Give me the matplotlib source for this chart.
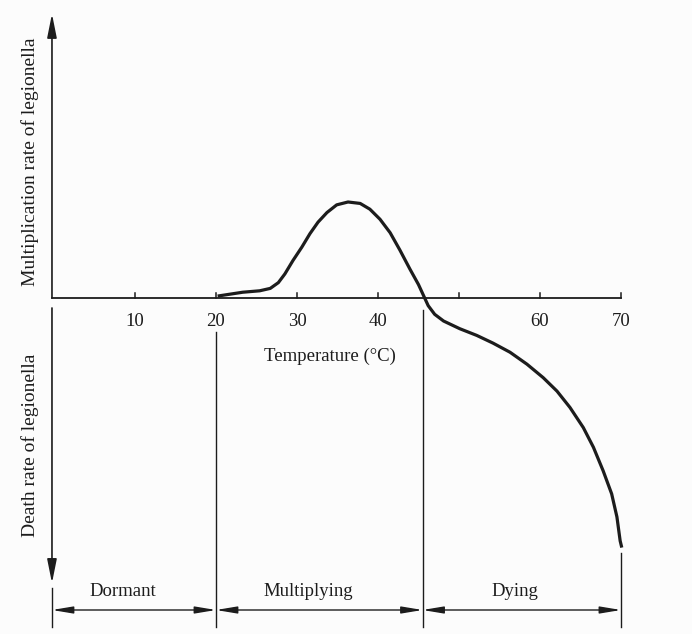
import matplotlib
matplotlib.use("Agg")
import matplotlib.pyplot as plt

# temperature (deg C) and relative rate (+ multiplication, - death)
temps = [20.2, 23.3, 25.4, 26.7, 27.7, 28.5, 29.5, 30.6, 31.6, 32.6, 33.7, 34.9, 36.3,
         37.8, 39.0, 40.25, 41.5, 42.7, 43.95, 45.0, 45.6,
         46.2, 47.0, 48.1, 50.1, 52.2, 54.2, 56.3, 58.4, 60.4, 62.1, 63.7, 65.35, 66.6,
         67.8, 68.85, 69.5, 69.9, 70.1]
rates = [0.02, 0.06, 0.075, 0.1, 0.16, 0.25, 0.39, 0.53, 0.67, 0.79, 0.89, 0.97, 1.0,
         0.985, 0.925, 0.82, 0.68, 0.5, 0.3, 0.14, 0.03,
         -0.08, -0.17, -0.24, -0.32, -0.39, -0.47, -0.565, -0.69, -0.83, -0.97, -1.14, -1.35,
         -1.555, -1.8, -2.04, -2.28, -2.53, -2.6]
tick_temps = [10, 20, 30, 40, 50, 60, 70]
tick_labels = ['10', '20', '30', '40', '', '60', '70']
phase_edges = [0, 20, 45.5, 70]
phase_names = ['Dormant', 'Multiplying', 'Dying']
phase_label_x = [8.5, 31.4, 56.9]

ink = '#1c1c1c'
serif = ['Liberation Serif', 'DejaVu Serif']

fig = plt.figure(figsize=(6.92, 6.34), dpi=100)
fig.patch.set_facecolor('#fcfcfc')
ax = fig.add_axes([0, 0, 1, 1])
ax.set_xlim(-6.667, 78.77)
ax.set_ylim(-3.5, 3.104)
ax.axis('off')

x0 = -0.25
arrow = dict(arrowstyle='-|>,head_length=0.9,head_width=0.18', color=ink, lw=1.2,
             mutation_scale=16, shrinkA=0, shrinkB=0)

# y axis, up (multiplication) and down (death)
ax.annotate('', xy=(x0, 2.96), xytext=(x0, 0), arrowprops=arrow)
ax.annotate('', xy=(x0, -2.97), xytext=(x0, -0.104), arrowprops=arrow)

# temperature axis
ax.plot([x0, 70], [0, 0], color=ink, lw=1.3)
for t, lab in zip(tick_temps, tick_labels):
    ax.plot([t, t], [0, 0.05], color=ink, lw=1.1)
    if lab:
        ax.text(t, -0.25, lab, ha='center', va='center', fontsize=13.5,
                family=serif, color=ink)
ax.text(34.1, -0.61, 'Temperature (°C)', ha='center', va='center', fontsize=13.5,
        family=serif, color=ink)

ax.text(-2.96, 1.42, 'Multiplication rate of legionella', rotation=90, ha='center',
        va='center', fontsize=14, family=serif, color=ink)
ax.text(-2.96, -1.53, 'Death rate of legionella', rotation=90, ha='center',
        va='center', fontsize=14, family=serif, color=ink)

# the rate curve
ax.plot(temps, rates, color=ink, lw=2.3, solid_capstyle='butt', solid_joinstyle='round')

# phase separators and spans
tops = [-3.02, -0.354, -0.125, -2.66]
for t, top in zip(phase_edges, tops):
    ax.plot([t if t else x0] * 2, [top, -3.43], color=ink, lw=1.0)

span = dict(arrowstyle='<|-|>,head_length=0.9,head_width=0.15', color=ink, lw=1.0,
            mutation_scale=14, shrinkA=0, shrinkB=0)
for i, name in enumerate(phase_names):
    a = phase_edges[i] if phase_edges[i] else x0
    ax.annotate('', xy=(phase_edges[i + 1], -3.25), xytext=(a, -3.25), arrowprops=span)
    ax.text(phase_label_x[i], -3.06, name, ha='center', va='center', fontsize=13.5,
            family=serif, color=ink)

fig.savefig('out.png', dpi=100, facecolor=fig.get_facecolor())
